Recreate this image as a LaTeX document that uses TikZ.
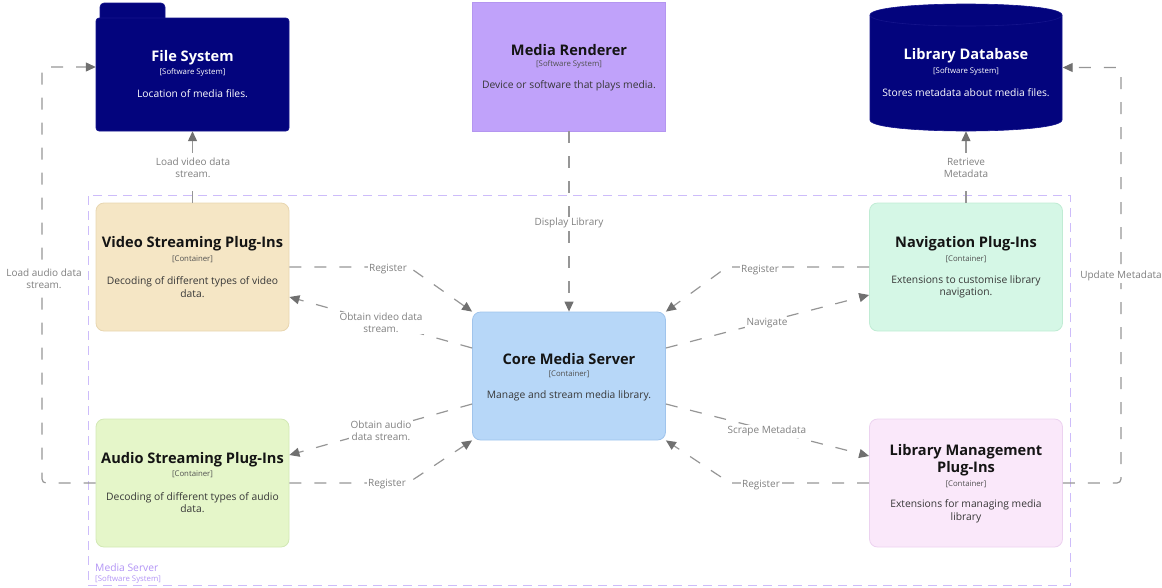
\documentclass[tikz,border=0pt]{standalone}
\usepackage{fontspec}
\setmainfont{Open Sans}
\usetikzlibrary{arrows.meta,calc}

\definecolor{navybox}{RGB}{3,4,125}
\definecolor{navyline}{RGB}{20,20,140}
\definecolor{rendfill}{RGB}{192,162,250}
\definecolor{rendline}{RGB}{180,150,240}
\definecolor{vidfill}{RGB}{245,230,197}
\definecolor{vidline}{RGB}{232,214,176}
\definecolor{navfill}{RGB}{213,247,230}
\definecolor{navline}{RGB}{192,236,212}
\definecolor{corefill}{RGB}{183,215,248}
\definecolor{coreline}{RGB}{160,196,236}
\definecolor{audfill}{RGB}{229,246,201}
\definecolor{audline}{RGB}{210,232,180}
\definecolor{mgmtfill}{RGB}{250,232,250}
\definecolor{mgmtline}{RGB}{236,210,240}
\definecolor{bndline}{RGB}{205,188,250}
\definecolor{bndtext}{RGB}{178,148,245}
\definecolor{relline}{RGB}{150,150,150}
\definecolor{reltip}{RGB}{112,112,112}
\definecolor{reltext}{RGB}{128,128,128}
\definecolor{titletext}{RGB}{20,20,20}
\definecolor{desctext}{RGB}{55,55,55}
\definecolor{stereotext}{RGB}{80,80,80}

\begin{document}
\begin{tikzpicture}[x=1pt,y=-1pt,
  box/.style={draw, line width=0.8pt, rounded corners=8pt, minimum width=193pt, minimum height=128pt, inner sep=0pt},
  ghost/.style={minimum width=193pt, inner sep=0pt},
  ttl/.style={font=\fontsize{14.6}{17.5}\selectfont\bfseries, text=titletext, inner sep=0pt, align=center, yshift=-2pt},
  stereo/.style={font=\fontsize{7.8}{9}\selectfont, text=stereotext, inner sep=0pt, yshift=-1.5pt},
  desc/.style={font=\fontsize{10.3}{12.5}\selectfont, text=desctext, inner sep=0pt, align=center, yshift=-2pt},
  onnavy/.style={text=white},
  rel/.style={draw=relline, line width=1.2pt, dash pattern=on 12pt off 13pt,
    -{Triangle[length=10pt,width=9pt,color=reltip]}},
  lbl/.style={font=\fontsize{10}{12}\selectfont, text=reltext, fill=white, inner sep=1.5pt, align=center, yshift=-1pt},
  boundary/.style={draw=bndline, line width=1pt, dash pattern=on 9pt off 6pt, inner sep=0pt}
]
\useasboundingbox (0,0) rectangle (1162,587);

% ---------- system boundary ----------
\node[boundary, minimum width=982pt, minimum height=390pt] (ms) at (579,390) {};
\node[anchor=west, inner sep=0pt, font=\fontsize{10.3}{12}\selectfont, text=bndtext, yshift=-1pt] (msname) at (95,567) {Media Server};
\node[anchor=west, inner sep=0pt, font=\fontsize{7.8}{9}\selectfont, text=bndtext, yshift=-1pt] (mstype) at (95,578) {[Software System]};

% ---------- outer systems: folder and cylinder outlines ----------
\path[fill=navybox, draw=navyline, line width=0.6pt, rounded corners=4pt] (100,3) rectangle (165,24);
\path[fill=navybox, draw=navyline, line width=0.6pt, rounded corners=3pt] (96,18) rectangle (289,131);
\node[ghost, minimum height=128pt] (fs) at (192.5,67) {};

\path[fill=navybox, draw=navyline, line width=0.6pt]
  (870,15) .. controls (870,0.33) and (1062,0.33) .. (1062,15)
  -- (1062,120) .. controls (1062,134.67) and (870,134.67) .. (870,120) -- cycle;
\draw[navyline, line width=0.6pt] (870,15) .. controls (870,29.67) and (1062,29.67) .. (1062,15);
\node[ghost, minimum height=127pt] (db) at (966,67.5) {};

\node[box, rounded corners=0pt, fill=rendfill, draw=rendline, minimum height=129pt] (mr) at (569,66.5) {};

% ---------- containers ----------
\node[box, fill=vidfill, draw=vidline] (vs) at (192.5,267) {};
\node[box, fill=navfill, draw=navline] (nav) at (966,267) {};
\node[box, fill=corefill, draw=coreline] (core) at (569,376) {};
\node[box, fill=audfill, draw=audline] (as) at (192.5,483) {};
\node[box, fill=mgmtfill, draw=mgmtline] (lm) at (966,483) {};

% ---------- relationships ----------
\coordinate (vsbend) at (409,267);
\coordinate (asbend) at (408,483);
\coordinate (navbend) at (727,267);
\coordinate (lmbend) at (730,483);
\coordinate (leftrail) at (42,0);
\coordinate (rightrail) at (1121,0);

\draw[rel] (vs.north) -- (fs.south);
\draw[rel] (mr.south) -- (core.north);
\draw[rel] (nav.north) -- (db.south);

\draw[rel] (vs.east) -- (vsbend) -- (core.north west);
\draw[rel] ($(core.west)+(0,-28)$) -- ($(vs.east)+(0,30)$);
\draw[rel] ($(core.west)+(0,28)$) -- ($(as.east)+(0,-28)$);
\draw[rel] (as.east) -- (asbend) -- (core.south west);

\draw[rel] (nav.west) -- (navbend) -- (core.north east);
\draw[rel] ($(core.east)+(0,-28)$) -- ($(nav.west)+(0,28)$);
\draw[rel] ($(core.east)+(0,28)$) -- ($(lm.west)+(0,-27)$);
\draw[rel] (lm.west) -- (lmbend) -- (core.south east);

\draw[rel, rounded corners=4pt] (as.west) -- (as.west -| leftrail) -- (fs.west -| leftrail) -- (fs.west);
\draw[rel, rounded corners=4pt] (lm.east) -- (lm.east -| rightrail) -- (db.east -| rightrail) -- (db.east);

% ---------- relationship labels ----------
\node[lbl] (l1) at (193,167) {Load video data\\stream.};
\node[lbl] (l2) at (569,222) {Display Library};
\node[lbl] (l3) at (966,167) {Retrieve\\Metadata};
\node[lbl] (l4) at (388,268) {Register};
\node[lbl] (l5) at (381,322) {Obtain video data\\stream.};
\node[lbl] (l6) at (381,430) {Obtain audio\\data stream.};
\node[lbl] (l7) at (387,483) {Register};
\node[lbl] (l8) at (760,269) {Register};
\node[lbl] (l9) at (767,322) {Navigate};
\node[lbl] (l10) at (767,430) {Scrape Metadata};
\node[lbl] (l11) at (761,484) {Register};
\node[lbl] (l12) at (44,277.5) {Load audio data\\stream.};
\node[lbl] (l13) at (1121,275) {Update Metadata};

% ---------- texts of the boxes ----------
\node[ttl, onnavy] (fst) at (192.5,56) {File System};
\node[stereo, onnavy] (fss) at (192.5,71) {[Software System]};
\node[desc, onnavy] (fsd) at (192.5,92) {Location of media files.};

\node[ttl] (mrt) at (569,48) {Media Renderer};
\node[stereo] (mrs) at (569,63) {[Software System]};
\node[desc] (mrd) at (569,84) {Device or software that plays media.};

\node[ttl, onnavy] (dbt) at (966,54) {Library Database};
\node[stereo, onnavy] (dbs) at (966,70) {[Software System]};
\node[desc, onnavy] (dbd) at (966,91) {Stores metadata about media files.};

\node[ttl] (vst) at (192.5,242) {Video Streaming Plug-Ins};
\node[stereo] (vss) at (192.5,258) {[Container]};
\node[desc] (vsd) at (192.5,285) {Decoding of different types of video\\data.};

\node[ttl] (navt) at (966,242) {Navigation Plug-Ins};
\node[stereo] (navs) at (966,258) {[Container]};
\node[desc] (navd) at (966,285) {Extensions to customise library\\navigation.};

\node[ttl] (coret) at (569,357) {Core Media Server};
\node[stereo] (cores) at (569,373) {[Container]};
\node[desc] (cored) at (569,394) {Manage and stream media library.};

\node[ttl] (ast) at (192.5,458) {Audio Streaming Plug-Ins};
\node[stereo] (ass) at (192.5,473) {[Container]};
\node[desc] (asd) at (192.5,500.5) {Decoding of different types of audio\\data.};

\node[ttl] (lmt) at (966,458) {Library Management\\Plug-Ins};
\node[stereo] (lms) at (966,483) {[Container]};
\node[desc] (lmd) at (966,509.5) {Extensions for managing media\\library};

\end{tikzpicture}
\end{document}
